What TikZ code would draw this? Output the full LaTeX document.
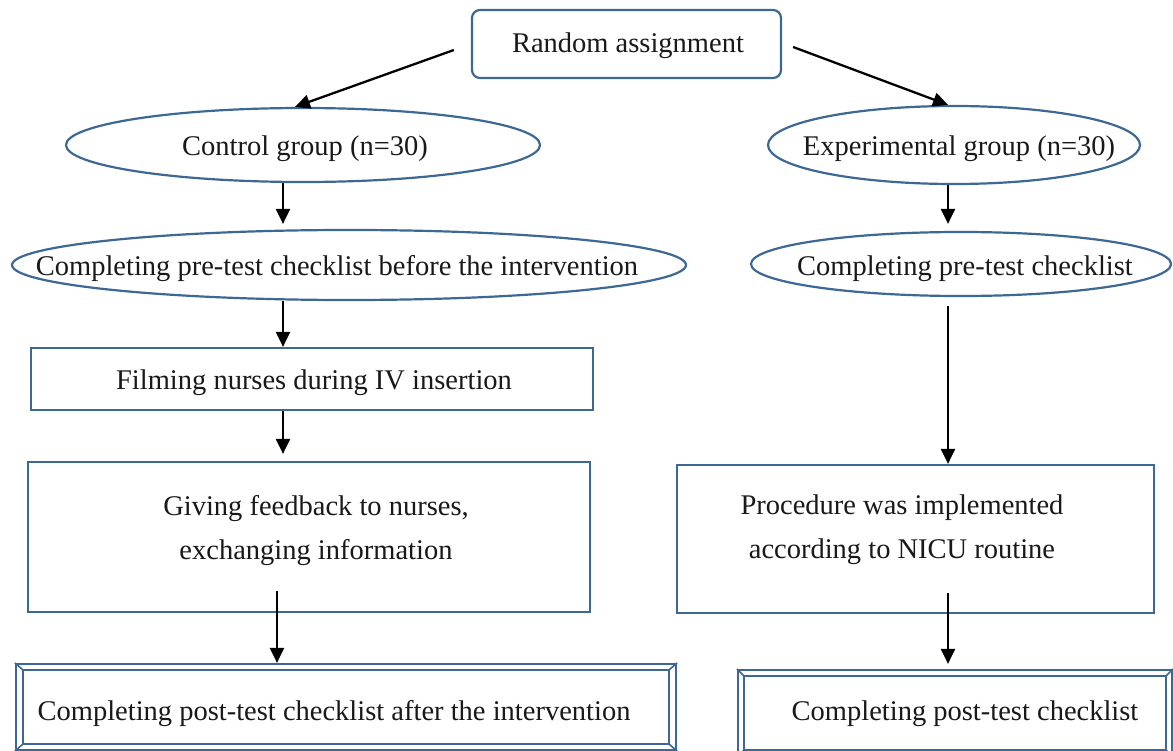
\documentclass[tikz,border=0pt]{standalone}
\usepackage{fontspec}
\setmainfont{Liberation Serif}
\usetikzlibrary{shapes.geometric,arrows.meta,calc}
\definecolor{bd}{RGB}{62,104,148}
\begin{document}
\begin{tikzpicture}[x=1pt,y=-1pt,
 box/.style={draw=bd,line width=2.2pt,inner sep=0pt},
 oval/.style={ellipse,draw=bd,line width=2.2pt,inner sep=0pt},
 lbl/.style={font=\fontsize{28.5}{44}\selectfont,inner sep=0pt,align=center,text=black!90},
 arr/.style={line width=2.3pt,-{Triangle[length=15pt,width=14pt]}}]
\useasboundingbox (0,0) rectangle (1173,751);
\fill[white] (0,0) rectangle (1173,751);
\clip (0,0) rectangle (1173,751);
% shapes
\node[box,rounded corners=8pt,minimum width=309pt,minimum height=68pt] (ra) at (626.5,44) {};
\node[oval,minimum width=474pt,minimum height=74pt] (ctrl) at (303,145) {};
\node[oval,minimum width=372pt,minimum height=78pt] (exp) at (954,145) {};
\node[oval,minimum width=674pt,minimum height=70pt] (pre1) at (349,265) {};
\node[oval,minimum width=420pt,minimum height=64pt] (pre2) at (961,264) {};
\node[box,minimum width=562pt,minimum height=62pt] (film) at (312,379) {};
\node[box,minimum width=562pt,minimum height=150pt] (give) at (309,537) {};
\node[box,minimum width=477pt,minimum height=148pt] (proc) at (915.5,539) {};
\node[box,minimum width=660pt,minimum height=86pt] (post1) at (346,707) {};
\node[box,minimum width=434pt,minimum height=86pt] (post2) at (955,713) {};
\foreach \n/\dx/\dy in {post1/8/7,post2/7/7}{
  \draw[bd,line width=2.2pt] ($(\n.north west)+(\dx,\dy)$) rectangle ($(\n.south east)+(-\dx,-\dy)$);
  \draw[bd,line width=1.6pt] (\n.north west) -- ++(\dx,\dy) (\n.north east) -- ++(-\dx,\dy)
     (\n.south west) -- ++(\dx,-\dy) (\n.south east) -- ++(-\dx,-\dy);
}
% labels
\node[lbl] (tra) at (628,46) {Random assignment};
\node[lbl] (tctrl) at (305,149) {Control group (n=30)};
\node[lbl] (texp) at (959,149) {Experimental group (n=30)};
\node[lbl] (tpre1) at (337,269) {Completing pre-test checklist before the intervention};
\node[lbl] (tpre2) at (965,269) {Completing pre-test checklist};
\node[lbl] (tfilm) at (314,383) {Filming nurses during IV insertion};
\node[lbl] (tgive) at (316,531) {Giving feedback to nurses,\\ exchanging information};
\node[lbl] (tproc) at (902,530) {Procedure was implemented\\ according to NICU routine};
\node[lbl] (tpost1) at (334,714) {Completing post-test checklist after the intervention};
\node[lbl] (tpost2) at (965,714) {Completing post-test checklist};
% connectors
\coordinate (L) at (283,0);
\coordinate (L2) at (277,0);
\coordinate (R) at (948,0);
\draw[arr] ($(ra.west)+(-17,6)$) -- ($(ctrl.north)+(-8,0)$);
\draw[arr] ($(ra.east)+(11,3)$) -- ($(exp.north)+(-6,0)$);
\draw[arr] (ctrl.south -| L) -- ($(pre1.north -| L)+(0,-5)$);
\draw[arr] (pre1.south -| L) -- (film.north -| L);
\draw[arr] (film.south -| L) -- ($(give.north -| L)+(0,-7)$);
\draw[arr] ($(give.south -| L2)+(0,-22)$) -- (post1.north -| L2);
\draw[arr] (exp.south -| R) -- ($(pre2.north -| R)+(0,-7)$);
\draw[arr] ($(pre2.south -| R)+(0,9)$) -- (proc.north -| R);
\draw[arr] ($(proc.south -| R)+(0,-21)$) -- ($(post2.north -| R)+(0,-5)$);
\end{tikzpicture}
\end{document}
